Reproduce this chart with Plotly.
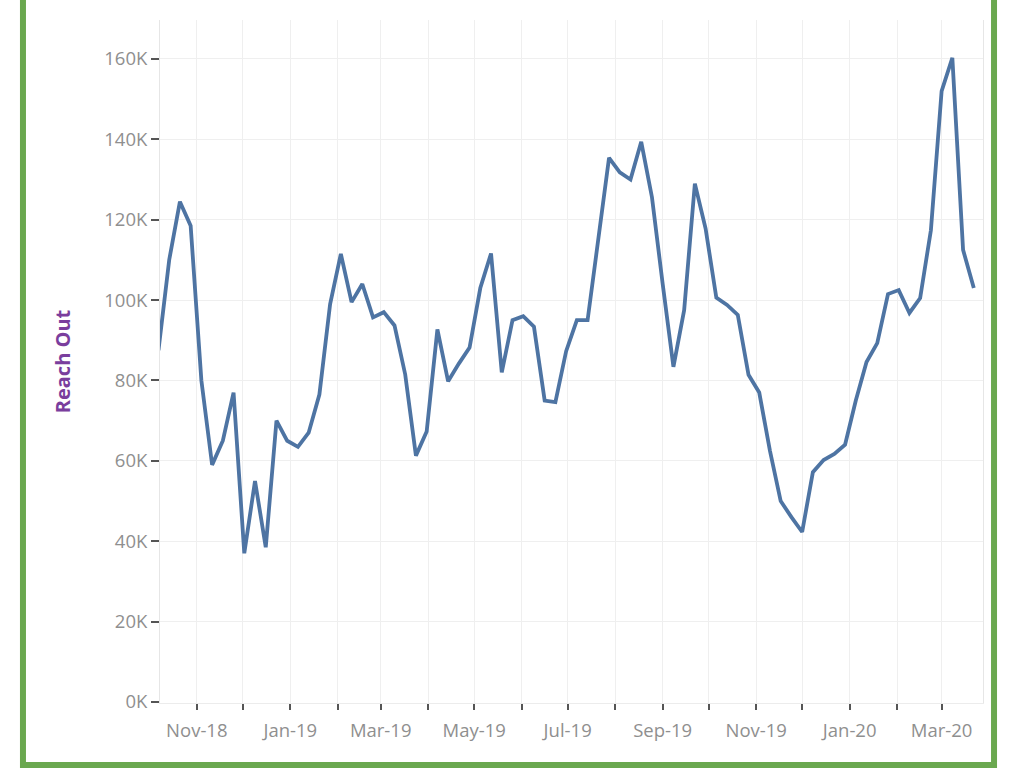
import pandas as pd
import plotly.graph_objects as go

# Weekly data (week starting Sunday)
start_week = "2018-10-07"
n_weeks = 77
weeks = pd.date_range(start_week, periods=n_weeks, freq="7D")

reach_out_k = [
    87.5, 110, 124.5, 118.5, 80, 59, 65, 77, 37, 55,
    38.5, 70, 65, 63.5, 67, 76.5, 99, 111.5, 99.5, 104,
    95.7, 97, 93.7, 81.5, 61.3, 67.3, 92.7, 79.8, 84.2, 88.2,
    103, 111.6, 82, 95, 96, 93.4, 75, 74.6, 87.3, 95,
    95, 115, 135.4, 131.8, 130, 139.4, 125.6, 104, 83.4, 97.5,
    129, 117.8, 100.6, 98.8, 96.3, 81.4, 77, 62.5, 50, 46,
    42.3, 57.2, 60.2, 61.7, 64, 75, 84.6, 89.3, 101.5, 102.5,
    96.8, 100.5, 117.4, 152, 160.3, 112.5, 103,
]
reach_out = [v * 1000 for v in reach_out_k]

y_tick_vals = [0, 20000, 40000, 60000, 80000, 100000, 120000, 140000, 160000]
y_tick_text = ["0K", "20K", "40K", "60K", "80K", "100K", "120K", "140K", "160K"]

fig = go.Figure()
fig.add_trace(go.Scatter(
    x=weeks, y=reach_out, mode="lines",
    line=dict(color="#4e74a3", width=3.8),
    hoverinfo="skip",
))

tick_font = dict(family="Open Sans", size=18.5, color="#8f8f8f")

fig.update_layout(
    width=1024, height=769,
    margin=dict(l=160, r=41, t=20, b=66),
    paper_bgcolor="white", plot_bgcolor="white",
    showlegend=False,
    xaxis=dict(
        range=["2018-10-08", "2020-03-28"],
        tick0="2018-11-01", dtick="M2", tickformat="%b-%y",
        ticks="outside", ticklen=6, tickwidth=1.5, tickcolor="#555555",
        tickfont=tick_font, ticklabelstandoff=5,
        showgrid=True, gridcolor="#efefef", gridwidth=1,
        showline=True, linecolor="#ececec", linewidth=1,
        zeroline=False,
        minor=dict(dtick="M1", tick0="2018-11-01", ticks="outside", ticklen=6,
                   tickwidth=1.5, tickcolor="#555555",
                   showgrid=True, gridcolor="#efefef", gridwidth=1),
    ),
    yaxis=dict(
        range=[-250, 169700],
        tickvals=y_tick_vals, ticktext=y_tick_text,
        ticks="outside", ticklen=8, tickwidth=1.5, tickcolor="#555555",
        tickfont=tick_font,
        showgrid=True, gridcolor="#efefef", gridwidth=1,
        showline=True, linecolor="#e6e6e6", linewidth=1, mirror=True,
        zeroline=False,
        title=dict(text="<b>Reach Out</b>", standoff=28,
                   font=dict(family="Open Sans", size=20, color="#7a3e9d")),
    ),
    shapes=[
        dict(type="rect", xref="paper", yref="paper",
             x0=-0.1665, x1=1.0134, y0=-0.0908, y1=1.08,
             line=dict(color="#6aa84f", width=6), fillcolor="rgba(0,0,0,0)",
             layer="above"),
    ],
)

fig.write_html("out.html")
